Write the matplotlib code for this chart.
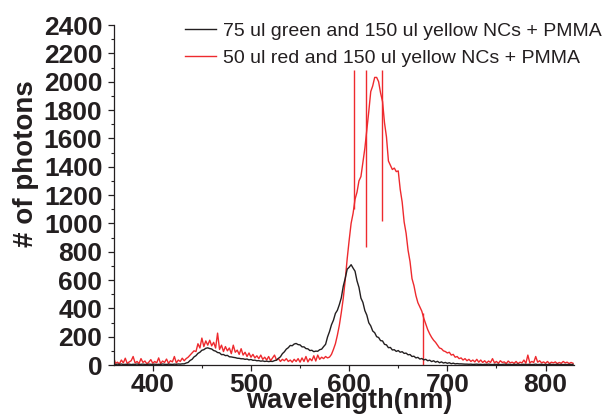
import numpy as np
import matplotlib.pyplot as plt
from matplotlib.ticker import MultipleLocator

RED = "#ee2a2e"
BLACK = "#231f20"

# --- Data (2 nm steps from 360 to 828 nm) ---
wavelength = np.arange(360, 830, 2)

black_counts = [
    5, 3, 6, 4, 7, 3, 5, 4, 6, 3, 5, 4, 7, 3, 5, 6, 4, 3, 6, 5,        # 360-398
    4, 6, 3, 5, 4, 7, 5, 4, 6, 5, 4, 6, 5, 7, 6, 8,                    # 400-430
    8, 14, 18, 32, 40, 57, 66, 82, 90, 104, 108, 118, 121, 116, 113,   # 432-460
    102, 98, 88, 86, 73, 74, 66, 68, 58, 57, 54, 52, 48, 47, 44,       # 462-490
    44, 40, 42, 36, 39, 33, 34, 30, 31, 27, 29, 25, 27, 24,            # 492-518
    26, 25, 31, 34, 47, 58, 80, 93, 112, 122, 138, 136, 148, 152,      # 520-546
    144, 142, 128, 128, 116, 114, 102, 104, 94, 98, 97, 108, 112,      # 548-572
    130, 146, 198, 236, 284, 316, 364, 386, 426, 474, 556, 612, 676,   # 574-598
    690, 708, 684, 662, 594, 548, 472, 442, 384, 352, 298, 276, 240,   # 600-624
    228, 200, 194, 172, 170, 146, 142, 122, 124, 106, 108, 96, 102,    # 626-650
    90, 94, 82, 84, 72, 74, 60, 62, 50, 54, 42, 46, 36, 40, 30,        # 652-680
    34, 24, 30, 20, 26, 16, 22, 14, 18, 12, 16, 9, 13, 8, 10,          # 682-710
    8, 8, 7, 6, 6, 5, 6, 4, 5, 6, 4, 5, 3, 5, 4, 6, 4, 3, 5, 4,        # 712-750
    5, 3, 4, 6, 3, 5, 4, 3, 5, 4, 6, 3, 4, 5, 3, 4, 5, 3, 4, 6,        # 752-790
    3, 4, 5, 3, 4, 3, 5, 4, 3, 4, 5, 3, 4, 3, 4, 3, 4, 3, 4,           # 792-828
]

red_counts = [
    55, 12, 20, 8, 35, 15, 48, 10, 22, 30, 60, 14, 25, 10, 45, 18,     # 360-390
    28, 8, 20, 38, 12, 25, 15, 50, 10, 28, 18, 42, 12, 30, 22, 60,     # 392-422
    15, 35, 25, 48, 30, 45, 55, 70, 85, 100, 95, 150, 120, 190,        # 424-450
    130, 170, 140, 175, 135, 160, 120, 225, 110, 140, 95, 130, 100,    # 452-476
    120, 80, 140, 90, 105, 75, 115, 70, 90, 60, 85, 55, 75, 50, 65,    # 478-506
    45, 70, 40, 55, 35, 60, 30, 50, 70, 35, 45, 25, 40, 30, 45, 25,    # 508-538
    35, 20, 40, 25, 45, 20, 50, 25, 60, 22, 45, 30, 65, 28, 70, 40,    # 540-570
    55, 45, 60, 50, 56, 75, 110, 150, 210, 280, 370, 470, 600, 750,    # 572-598
    880, 1000, 1070, 1170, 1220, 1300, 1330, 1430, 1530, 1660, 1790,   # 600-620
    1930, 1970, 2030, 2030, 2000, 1920, 1860, 1710, 1610, 1440, 1410,  # 622-642
    1380, 1390, 1365, 1370, 1240, 1150, 1010, 930, 810, 730, 610,      # 644-664
    560, 490, 440, 410, 380, 330, 290, 250, 220, 195, 175, 160, 140,   # 666-690
    120, 115, 100, 95, 85, 90, 70, 75, 55, 60, 45, 50, 35, 45, 30,     # 692-720
    40, 25, 35, 22, 40, 20, 35, 18, 30, 15, 28, 18, 45, 15, 25, 12,    # 722-752
    30, 18, 22, 10, 28, 15, 20, 12, 25, 10, 20, 15, 35, 12, 70, 15,    # 754-784
    25, 18, 60, 20, 30, 15, 22, 12, 25, 10, 20, 15, 22, 10, 18, 12,    # 786-816
    25, 15, 20, 10, 18, 12,                                            # 818-828
]

# single-channel spikes in the red spectrum
spike_nm = [605, 617.5, 633, 675]
spike_low = [1100, 830, 1020, 0]
spike_high = [2085, 2085, 2085, 370]

labels = ["75 ul green and 150 ul yellow NCs + PMMA",
          "50 ul red and 150 ul yellow NCs + PMMA"]

plt.rcParams['font.family'] = ['Liberation Sans', 'DejaVu Sans']

fig = plt.figure(figsize=(6.07, 4.15), dpi=100)
ax = fig.add_axes([113.5 / 607, 50 / 415, 460.5 / 607, 340 / 415])

ax.plot(wavelength, black_counts, color=BLACK, lw=1.0, label=labels[0], zorder=3)
ax.plot(wavelength, red_counts, color=RED, lw=1.0, label=labels[1], zorder=2)
ax.vlines(spike_nm, spike_low, spike_high, color=RED, lw=1.0, zorder=2)

ax.set_xlim(360, 829)
ax.set_ylim(0, 2400)
ax.xaxis.set_major_locator(MultipleLocator(100))
ax.xaxis.set_minor_locator(MultipleLocator(50))
ax.yaxis.set_major_locator(MultipleLocator(200))
ax.yaxis.set_minor_locator(MultipleLocator(100))

for side in ("top", "right"):
    ax.spines[side].set_visible(False)
for side in ("left", "bottom"):
    ax.spines[side].set_color(BLACK)
    ax.spines[side].set_linewidth(0.9)

ax.tick_params(which="major", length=4.5, width=0.9, color=BLACK,
               labelsize=19, labelcolor=BLACK)
ax.tick_params(axis="y", which="major", pad=3.5)
ax.tick_params(axis="x", which="major", pad=1)
ax.tick_params(which="minor", length=2.5, width=0.8, color=BLACK)
for lab in ax.get_xticklabels() + ax.get_yticklabels():
    lab.set_fontweight("bold")

fig.text(26 / 607, 1 - 163.5 / 415, "# of photons", rotation=90,
         ha="center", va="center", fontsize=20, fontweight="bold", color=BLACK)
fig.text(349 / 607, 1 - 408 / 415, "wavelength(nm)", ha="center",
         va="baseline", fontsize=19.5, fontweight="bold", color=BLACK)

ax.legend(loc="upper left", bbox_to_anchor=(185 / 607, 1 - 22 / 415),
          bbox_transform=fig.transFigure, frameon=False, fontsize=14,
          handlelength=1.57, handletextpad=0.37, labelspacing=0.5,
          borderpad=0, borderaxespad=0, labelcolor=BLACK)

fig.savefig("out.png", dpi=100)
